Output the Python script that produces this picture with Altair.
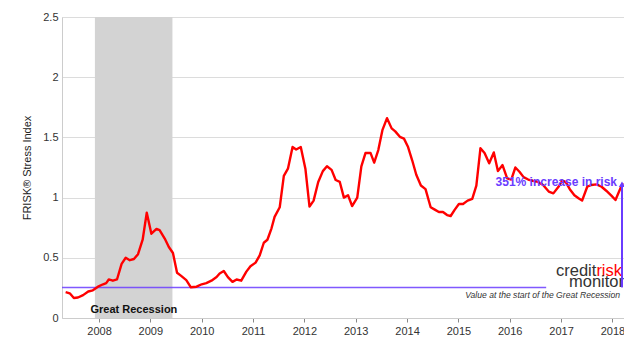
import altair as alt
import pandas as pd

# ---- data ----
years = [
    2007.35, 2007.43, 2007.51, 2007.59, 2007.69, 2007.79, 2007.88, 2007.98,
    2008.08, 2008.14, 2008.19, 2008.27, 2008.35, 2008.44, 2008.52, 2008.60,
    2008.68, 2008.76, 2008.85, 2008.93, 2009.02, 2009.12, 2009.18, 2009.28,
    2009.36, 2009.44, 2009.52, 2009.60, 2009.70, 2009.79, 2009.90, 2010.00,
    2010.09, 2010.19, 2010.29, 2010.35, 2010.43, 2010.51, 2010.60, 2010.68,
    2010.77, 2010.87, 2010.95, 2011.05, 2011.13, 2011.21, 2011.28, 2011.36,
    2011.42, 2011.52, 2011.60, 2011.68, 2011.77, 2011.84, 2011.93, 2012.02,
    2012.10, 2012.18, 2012.27, 2012.36, 2012.44, 2012.53, 2012.61, 2012.69,
    2012.77, 2012.85, 2012.93, 2013.03, 2013.11, 2013.19, 2013.29, 2013.36,
    2013.44, 2013.52, 2013.61, 2013.70, 2013.77, 2013.86, 2013.94, 2014.02,
    2014.10, 2014.18, 2014.27, 2014.36, 2014.46, 2014.54, 2014.62, 2014.70,
    2014.78, 2014.85, 2014.93, 2015.01, 2015.09, 2015.18, 2015.27, 2015.35,
    2015.43, 2015.51, 2015.60, 2015.69, 2015.77, 2015.86, 2015.95, 2016.03,
    2016.11, 2016.19, 2016.27, 2016.36, 2016.45, 2016.55, 2016.65, 2016.76,
    2016.85, 2016.95, 2017.02, 2017.09, 2017.17, 2017.26, 2017.34, 2017.41,
    2017.51, 2017.59, 2017.69, 2017.79, 2017.88, 2017.98, 2018.06, 2018.13,
    2018.20,
]
frisk = [
    0.215, 0.205, 0.166, 0.17, 0.19, 0.22, 0.23, 0.26,
    0.28, 0.29, 0.32, 0.31, 0.32, 0.45, 0.50, 0.48,
    0.49, 0.53, 0.65, 0.875, 0.70, 0.74, 0.73, 0.66,
    0.59, 0.54, 0.376, 0.35, 0.315, 0.255, 0.26, 0.28,
    0.29, 0.31, 0.34, 0.37, 0.39, 0.34, 0.30, 0.32,
    0.31, 0.385, 0.43, 0.46, 0.52, 0.625, 0.65, 0.745,
    0.84, 0.92, 1.18, 1.24, 1.42, 1.40, 1.42, 1.24,
    0.925, 0.975, 1.13, 1.22, 1.26, 1.23, 1.146, 1.13,
    1.00, 1.02, 0.93, 1.00, 1.26, 1.37, 1.37, 1.29,
    1.395, 1.56, 1.66, 1.575, 1.55, 1.505, 1.49, 1.42,
    1.31, 1.19, 1.10, 1.07, 0.92, 0.90, 0.88, 0.88,
    0.855, 0.847, 0.90, 0.947, 0.947, 0.975, 0.99, 1.10,
    1.41, 1.37, 1.285, 1.375, 1.22, 1.27, 1.16, 1.15,
    1.25, 1.215, 1.17, 1.15, 1.14, 1.13, 1.105, 1.05,
    1.035, 1.09, 1.14, 1.13, 1.07, 1.02, 0.995, 0.975,
    1.09, 1.105, 1.11, 1.09, 1.057, 1.016, 0.98, 1.05,
    1.12,
]
x_ticks = [2008, 2009, 2010, 2011, 2012, 2013, 2014, 2015, 2016, 2017, 2018]
y_ticks = [0, 0.5, 1, 1.5, 2, 2.5]

recession_start = 2007.92
recession_end = 2009.43
start_value = 0.254
last_value = 1.13
baseline_end = 2016.71
arrow_year = 2018.187

X_DOMAIN = [2007.279, 2018.226]
Y_DOMAIN = [0, 2.5]

PURPLE = "#6a3cff"
FONT = "Liberation Sans"

line_df = pd.DataFrame({"year": years, "value": frisk})
band_df = pd.DataFrame({"start": [recession_start], "end": [recession_end]})
base_df = pd.DataFrame({"x0": [X_DOMAIN[0]], "x1": [baseline_end], "y": [start_value]})
arrow_df = pd.DataFrame({"x": [arrow_year], "y0": [start_value], "y1": [last_value - 0.03]})
head_df = pd.DataFrame({"x": [arrow_year], "y": [last_value - 0.02]})

xs = alt.Scale(domain=X_DOMAIN, nice=False, zero=False)
ys = alt.Scale(domain=Y_DOMAIN, nice=False)

x_axis = alt.Axis(values=x_ticks, format="d", grid=False, tickSize=4, tickColor="#888888",
                  domainColor="#cccccc", labelColor="#333333", labelFontSize=11,
                  labelFont=FONT, labelPadding=3, title=None)
y_axis = alt.Axis(values=y_ticks, format="~g", grid=True, gridColor="#dcdcdc", ticks=False,
                  domainColor="#cccccc", labelColor="#333333", labelFontSize=11,
                  labelFont=FONT, labelPadding=4, title="FRISK® Stress Index",
                  titleFont=FONT, titleFontSize=11, titleFontWeight="normal",
                  titleColor="#222222", titlePadding=10)

band = alt.Chart(band_df).mark_rect(color="#d3d3d3").encode(
    x=alt.X("start:Q", scale=xs, axis=x_axis),
    x2="end:Q",
    y=alt.value(0),
    y2=alt.value(301),
)

grid_holder = alt.Chart(line_df).mark_line(opacity=0).encode(
    x=alt.X("year:Q", scale=xs, axis=x_axis),
    y=alt.Y("value:Q", scale=ys, axis=y_axis),
)

baseline = alt.Chart(base_df).mark_rule(color=PURPLE, strokeWidth=1.5, opacity=0.85).encode(
    x=alt.X("x0:Q", scale=xs), x2="x1:Q", y=alt.Y("y:Q", scale=ys)
)

frisk_line = alt.Chart(line_df).mark_line(color="#ff0000", strokeWidth=2.4,
                                          strokeJoin="round").encode(
    x=alt.X("year:Q", scale=xs),
    y=alt.Y("value:Q", scale=ys),
)

arrow = alt.Chart(arrow_df).mark_rule(color=PURPLE, strokeWidth=2).encode(
    x=alt.X("x:Q", scale=xs), y=alt.Y("y0:Q", scale=ys), y2="y1:Q"
)
head = alt.Chart(head_df).mark_point(shape="triangle-up", filled=True, color=PURPLE,
                                     size=40, opacity=1).encode(
    x=alt.X("x:Q", scale=xs), y=alt.Y("y:Q", scale=ys)
)

def label(df, **kw):
    return alt.Chart(pd.DataFrame(df)).mark_text(font=FONT, **kw).encode(
        x=alt.X("x:Q", scale=xs), y=alt.Y("y:Q", scale=ys), text="t:N"
    )

increase_txt = label({"x": [2018.09], "y": [last_value], "t": ["351% increase in risk"]},
                     align="right", baseline="middle", fontSize=12, fontWeight="bold",
                     color=PURPLE)
recession_txt = label({"x": [2008.68], "y": [0.07], "t": ["Great Recession"]},
                      align="center", baseline="middle", fontSize=11, fontWeight="bold",
                      color="#111111")
start_txt = label({"x": [2018.15], "y": [0.19], "t": ["Value at the start of the Great Recession"]},
                  align="right", baseline="middle", fontSize=8.6, fontStyle="italic",
                  color="#333333")
credit_txt = label({"x": [2017.688], "y": [0.352], "t": ["credit"]},
                   align="right", baseline="alphabetic", fontSize=16.5, color="#333333",
                   fontWeight=500)
risk_txt = label({"x": [2017.688], "y": [0.352], "t": ["risk"]},
                 align="left", baseline="alphabetic", fontSize=16.5, color="#ff0000",
                 fontWeight=500)
monitor_txt = label({"x": [2018.226], "y": [0.26], "t": ["monitor"]},
                    align="right", baseline="alphabetic", fontSize=16.5, color="#333333",
                    fontWeight=500)

chart = alt.layer(
    grid_holder, band, baseline, frisk_line, credit_txt, risk_txt, monitor_txt,
    arrow, head, increase_txt, recession_txt, start_txt,
).properties(
    width=562, height=301,
    autosize=alt.AutoSizeParams(type="none"),
    padding={"left": 54, "top": 9, "right": 0, "bottom": 30},
).configure_view(stroke=None).configure(background="white")

chart.save("out.html", embed_options={"renderer": "svg", "actions": False})
